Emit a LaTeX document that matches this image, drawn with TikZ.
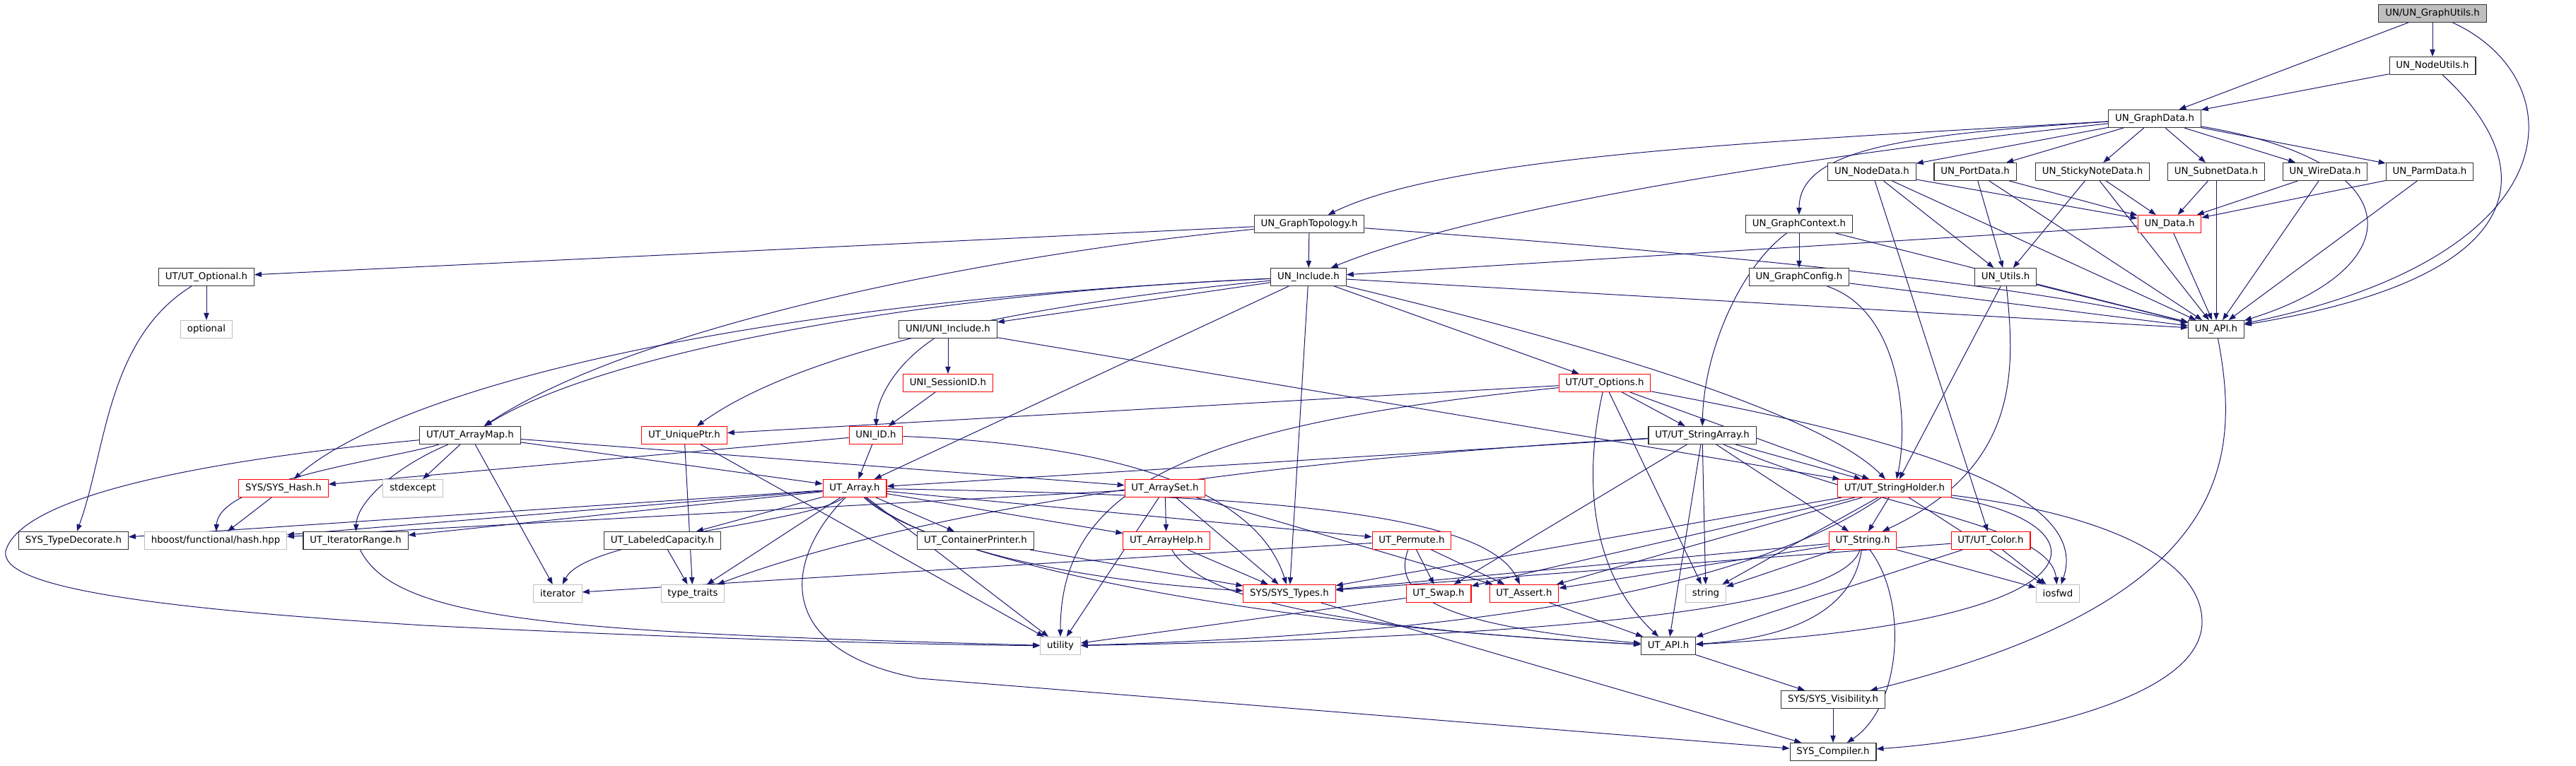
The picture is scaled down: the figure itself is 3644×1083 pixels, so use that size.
\documentclass[tikz,border=0pt]{standalone}
\usepackage{fontspec}
\setmainfont{DejaVu Sans}
\usetikzlibrary{arrows.meta,backgrounds}
\definecolor{edgeblue}{HTML}{191970}
\definecolor{lgray}{HTML}{BFBFBF}
\tikzset{
 nb/.style={draw, rectangle, fill=white, minimum height=18.75pt, inner xsep=7pt, inner ysep=0pt, font=\fontsize{10}{12}\selectfont, line width=0.8pt},
 blk/.style={nb, draw=black!80},
 rd/.style={nb, draw=red},
 gy/.style={nb, draw=lgray},
 root/.style={nb, draw=black!80, fill=lgray},
 e/.style={draw=edgeblue, line width=0.75pt, -{Triangle[length=7.5pt,width=5.5pt]}}
}
\begin{document}
\begin{tikzpicture}[x=0.75pt,y=-0.75pt]
\useasboundingbox (0,0) rectangle (3644,1083);
% nodes
\node[root] (gu) at (3441,19) {UN/UN\_GraphUtils.h};
\node[blk] (nu) at (3441,93) {UN\_NodeUtils.h};
\node[blk] (gd) at (3048,168) {UN\_GraphData.h};
\node[blk] (nd) at (2648,243) {UN\_NodeData.h};
\node[blk] (pd) at (2794,243) {UN\_PortData.h};
\node[blk] (snd) at (2960,243) {UN\_StickyNoteData.h};
\node[blk] (sd) at (3135,243) {UN\_SubnetData.h};
\node[blk] (wd) at (3289,243) {UN\_WireData.h};
\node[blk] (pmd) at (3437,243) {UN\_ParmData.h};
\node[blk] (gt) at (1852,317) {UN\_GraphTopology.h};
\node[blk] (gc) at (2545,317) {UN\_GraphContext.h};
\node[rd] (dat) at (3069,317) {UN\_Data.h};
\node[blk] (opt) at (292,392) {UT/UT\_Optional.h};
\node[blk] (inc) at (1851,392) {UN\_Include.h};
\node[blk] (gcf) at (2545,392) {UN\_GraphConfig.h};
\node[blk] (uu) at (2837,392) {UN\_Utils.h};
\node[gy] (optional) at (292,466) {optional};
\node[blk] (uniinc) at (1341,466) {UNI/UNI\_Include.h};
\node[blk] (api) at (3135,466) {UN\_API.h};
\node[rd] (sess) at (1341,542) {UNI\_SessionID.h};
\node[rd] (opts) at (2270,542) {UT/UT\_Options.h};
\node[blk] (am) at (665,616) {UT/UT\_ArrayMap.h};
\node[rd] (up) at (968,616) {UT\_UniquePtr.h};
\node[rd] (uid) at (1239,616) {UNI\_ID.h};
\node[blk] (sa) at (2408,616) {UT/UT\_StringArray.h};
\node[rd] (hash) at (401,691) {SYS/SYS\_Hash.h};
\node[gy] (stdexcept) at (584,691) {stdexcept};
\node[rd] (arr) at (1209,691) {UT\_Array.h};
\node[rd] (aset) at (1648,691) {UT\_ArraySet.h};
\node[rd] (sh) at (2680,691) {UT/UT\_StringHolder.h};
\node[blk] (td) at (104,765) {SYS\_TypeDecorate.h};
\node[gy] (hh) at (305,765) {hboost/functional/hash.hpp};
\node[blk] (ir) at (503,765) {UT\_IteratorRange.h};
\node[blk] (lc) at (937,765) {UT\_LabeledCapacity.h};
\node[blk] (cp) at (1380,765) {UT\_ContainerPrinter.h};
\node[rd] (ah) at (1650,765) {UT\_ArrayHelp.h};
\node[rd] (perm) at (1997,765) {UT\_Permute.h};
\node[rd] (str) at (2635,765) {UT\_String.h};
\node[rd] (col) at (2816,765) {UT/UT\_Color.h};
\node[gy] (iter) at (789,840) {iterator};
\node[gy] (tt) at (980,840) {type\_traits};
\node[rd] (types) at (1824,840) {SYS/SYS\_Types.h};
\node[rd] (swap) at (2035,840) {UT\_Swap.h};
\node[rd] (assert) at (2156,840) {UT\_Assert.h};
\node[gy] (string) at (2413,840) {string};
\node[gy] (iosfwd) at (2911,840) {iosfwd};
\node[gy] (util) at (1500,914) {utility};
\node[blk] (utapi) at (2360,914) {UT\_API.h};
\node[blk] (vis) at (2593,990) {SYS/SYS\_Visibility.h};
\node[blk] (comp) at (2593,1064) {SYS\_Compiler.h};
% edges
\begin{scope}[on background layer]
\draw[e] (gu) -- (gd);
\draw[e] (gu) -- (nu);
\draw[e] (gu) .. controls (3640,110) and (3650,360) .. (api);
\draw[e] (nu) -- (gd);
\draw[e] (nu) .. controls (3590,230) and (3600,390) .. (api);
\draw[e] (gd) .. controls (2500,200) and (2050,220) .. (gt);
\draw[e] (gd) .. controls (2700,190) and (2545,210) .. (gc);
\draw[e] (gd) .. controls (2600,215) and (2100,290) .. (inc);
\draw[e] (gd) -- (nd);
\draw[e] (gd) -- (pd);
\draw[e] (gd) -- (snd);
\draw[e] (gd) -- (sd);
\draw[e] (gd) -- (wd);
\draw[e] (gd) -- (pmd);
\draw[e] (gd) .. controls (3420,230) and (3410,380) .. (api);
\draw[e] (gt) -- (opt);
\draw[e] (gt) -- (inc);
\draw[e] (gt) .. controls (1400,360) and (900,460) .. (am);
\draw[e] (gt) .. controls (2300,350) and (2800,390) .. (api);
\foreach \s in {nd,pd,snd,sd,wd,pmd} {\draw[e] (\s) -- (dat); \draw[e] (\s) -- (api);}
\draw[e] (nd) -- (uu);
\draw[e] (pd) -- (uu);
\draw[e] (snd) -- (uu);
\draw[e] (nd) -- (col);
\draw[e] (dat) -- (inc);
\draw[e] (dat) -- (api);
\draw[e] (gc) -- (gcf);
\draw[e] (gc) .. controls (2460,380) and (2410,500) .. (sa);
\draw[e] (gc) -- (api);
\draw[e] (gcf) .. controls (2690,440) and (2700,600) .. (sh);
\draw[e] (gcf) -- (api);
\draw[e] (uu) -- (api);
\draw[e] (uu) -- (sh);
\draw[e] (uu) .. controls (2850,520) and (2860,660) .. (str);
\draw[e] (inc) -- (api);
\draw[e] (inc) -- (uniinc);
\draw[e] (inc) .. controls (1350,440) and (1100,520) .. (up);
\draw[e] (inc) .. controls (1300,415) and (850,500) .. (am);
\draw[e] (inc) .. controls (1000,430) and (550,560) .. (hash);
\draw[e] (inc) -- (arr);
\draw[e] (inc) -- (types);
\draw[e] (inc) -- (opts);
\draw[e] (inc) .. controls (2050,440) and (2550,560) .. (sh);
\draw[e] (opt) -- (optional);
\draw[e] (opt) .. controls (150,480) and (150,640) .. (td);
\draw[e] (uniinc) -- (sess);
\draw[e] (uniinc) .. controls (1260,520) and (1240,570) .. (uid);
\draw[e] (uniinc) -- (sh);
\draw[e] (sess) -- (uid);
\draw[e] (uid) -- (arr);
\draw[e] (uid) -- (hash);
\draw[e] (uid) .. controls (1600,630) and (1780,700) .. (types);
\draw[e] (up) -- (tt);
\draw[e] (up) -- (util);
\draw[e] (opts) -- (up);
\draw[e] (opts) .. controls (1700,600) and (1500,680) .. (util);
\draw[e] (opts) -- (sa);
\draw[e] (opts) -- (sh);
\draw[e] (opts) .. controls (2700,620) and (2960,700) .. (iosfwd);
\draw[e] (opts) .. controls (2235,700) and (2260,820) .. (utapi);
\draw[e] (opts) -- (string);
\draw[e] (sa) -- (arr);
\draw[e] (sa) .. controls (1800,650) and (1300,720) .. (tt);
\draw[e] (sa) -- (sh);
\draw[e] (sa) -- (swap);
\draw[e] (sa) -- (string);
\draw[e] (sa) -- (str);
\draw[e] (sa) -- (utapi);
\draw[e] (sa) .. controls (2650,720) and (2900,740) .. (iosfwd);
\draw[e] (am) .. controls (550,650) and (310,680) .. (hh);
\draw[e] (am) -- (stdexcept);
\draw[e] (am) .. controls (560,660) and (505,710) .. (ir);
\draw[e] (am) -- (iter);
\draw[e] (am) .. controls (300,650) and (30,700) .. (8,780) .. controls (0,830) and (200,860) .. (600,885) .. controls (1000,905) and (1300,912) .. (util);
\draw[e] (am) -- (arr);
\draw[e] (am) -- (aset);
\draw[e] (hash) -- (hh);
\draw[e] (arr) -- (td);
\draw[e] (arr) -- (hh);
\draw[e] (arr) -- (ir);
\draw[e] (arr) -- (lc);
\draw[e] (arr) -- (cp);
\draw[e] (arr) -- (ah);
\draw[e] (arr) -- (perm);
\draw[e] (arr) .. controls (1150,740) and (830,760) .. (iter);
\draw[e] (arr) -- (tt);
\draw[e] (arr) .. controls (1300,770) and (1500,820) .. (types);
\draw[e] (arr) .. controls (1750,700) and (2100,720) .. (assert);
\draw[e] (arr) -- (util);
\draw[e] (arr) .. controls (1300,780) and (1700,880) .. (utapi);
\draw[e] (arr) .. controls (1110,790) and (1090,920) .. (1300,960) -- (comp);
\draw[e] (aset) -- (hh);
\draw[e] (aset) -- (ah);
\draw[e] (aset) -- (types);
\draw[e] (aset) -- (util);
\draw[e] (aset) -- (assert);
\draw[e] (ir) .. controls (560,880) and (800,895) .. (util);
\draw[e] (lc) -- (tt);
\draw[e] (cp) -- (types);
\draw[e] (ah) -- (types);
\draw[e] (ah) .. controls (1700,850) and (1900,890) .. (utapi);
\draw[e] (perm) -- (iter);
\draw[e] (perm) -- (swap);
\draw[e] (perm) -- (assert);
\draw[e] (perm) .. controls (1960,860) and (2100,890) .. (utapi);
\draw[e] (sh) -- (types);
\draw[e] (sh) -- (str);
\draw[e] (sh) -- (string);
\draw[e] (sh) .. controls (2450,850) and (2000,900) .. (util);
\draw[e] (sh) .. controls (2980,740) and (3000,880) .. (utapi);
\draw[e] (sh) -- (iosfwd);
\draw[e] (sh) .. controls (3000,730) and (3115,800) .. (3115,880) .. controls (3115,1000) and (2800,1050) .. (comp);
\draw[e] (sh) -- (assert);
\draw[e] (sh) -- (swap);
\draw[e] (str) -- (types);
\draw[e] (str) -- (assert);
\draw[e] (str) -- (string);
\draw[e] (str) .. controls (2600,880) and (2000,905) .. (util);
\draw[e] (str) .. controls (2620,880) and (2500,905) .. (utapi);
\draw[e] (str) .. controls (2700,850) and (2690,1000) .. (comp);
\draw[e] (str) -- (iosfwd);
\draw[e] (col) -- (types);
\draw[e] (col) -- (iosfwd);
\draw[e] (col) -- (utapi);
\draw[e] (types) -- (comp);
\draw[e] (swap) -- (util);
\draw[e] (assert) -- (utapi);
\draw[e] (utapi) -- (vis);
\draw[e] (vis) -- (comp);
\draw[e] (api) .. controls (3170,650) and (3160,850) .. (vis);
\end{scope}
\end{tikzpicture}
\end{document}
